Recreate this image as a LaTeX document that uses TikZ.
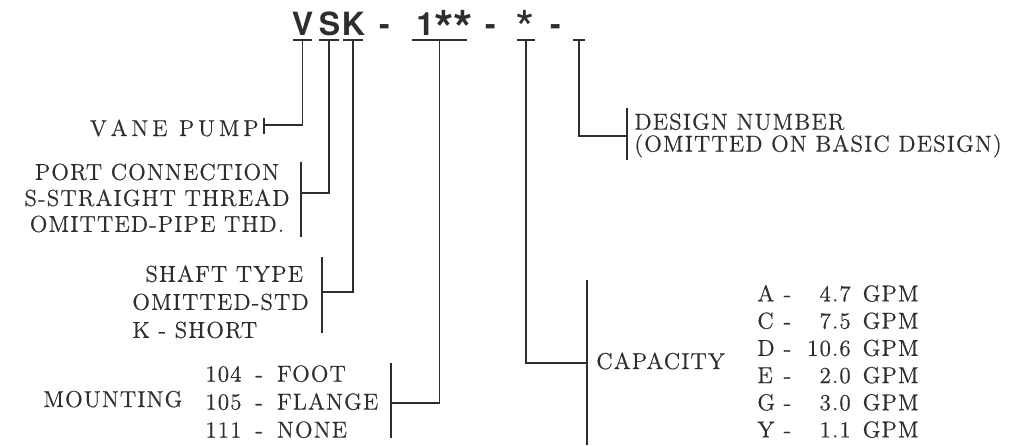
\documentclass[tikz,border=0pt]{standalone}
\usepackage{fontspec}
\usepackage{graphicx}
\usepackage{tikz}
\usetikzlibrary{calc,positioning}
\setmainfont{Latin Modern Roman}[LetterSpace=5, FakeBold=0.6]
\newfontfamily\codefont{TeX Gyre Heros}
\definecolor{InkGray}{HTML}{2E2E2E}
\newcommand{\bigast}{\raisebox{-5.5pt}{\scalebox{1.55}{*}}}
\tikzset{
  vskcode/.style={font=\codefont\bfseries\fontsize{16}{18}\selectfont, inner sep=0pt, text=InkGray},
  vsklabel/.style={font=\fontsize{11.5}{13.5}\selectfont, inner sep=0pt, align=left, text=InkGray},
  vskline/.style={draw=InkGray, line width=0.6pt},
  vskbracket/.style={draw=InkGray, line width=1.1pt}
}
\begin{document}
\begin{tikzpicture}[x=0.5pt,y=-0.5pt]
  \useasboundingbox (0,0) rectangle (1012,445);
  % model code
  \node[vskcode, anchor=base] (cV) at (302.5,35) {V};
  \node[vskcode, anchor=base] (cS) at (329.5,35) {S};
  \node[vskcode, anchor=base] (cK) at (353.5,35) {K};
  \node[vskcode, anchor=base] (d1) at (384.5,35) {-};
  \node[vskcode, anchor=base west] (cM) at (416,35) {1\bigast\bigast};
  \node[vskcode, anchor=base] (d2) at (490.5,35) {-};
  \node[vskcode, anchor=base, font=\codefont\fontsize{16}{18}\selectfont] (cC) at (525,35) {\bigast};
  \node[vskcode, anchor=base] (d3) at (555.5,35) {-};
  \foreach \n/\a/\b in {bV/293/312, bS/319/339, bK/343/363, bM/412/467, bC/517/535, bD/573/585} {
    \draw[vskline] (\a,40) -- (\b,40);
    \coordinate (\n) at ({(\a+\b)/2},40);
  }
  % labels
  \node[vsklabel, anchor=base east] (pump) at (259,136) {V\,A\,N\,E\hspace{0.5em}P\,U\,M\,P};
  \node[vsklabel, align=center, font=\fontsize{11.5}{13}\selectfont] (port) at (157,198)
    {PORT CONNECTION\\S-STRAIGHT THREAD\\OMITTED-PIPE THD.};
  \node[vsklabel, anchor=north west, font=\fontsize{11.5}{14}\selectfont] (shaft) at (132,265)
    {\hspace*{6.5pt}SHAFT TYPE\\OMITTED-STD\\K - SHORT};
  \node[vsklabel, anchor=base west] (mtitle) at (43,407) {MOUNTING};
  \node[vsklabel, anchor=north west, font=\fontsize{11.5}{14}\selectfont] (mount) at (205,365)
    {104\hspace{7pt}-\hspace{7pt}FOOT\\105\hspace{7pt}-\hspace{7pt}FLANGE\\111\hspace{7pt}-\hspace{7pt}NONE};
  \node[vsklabel, anchor=base west] (cap) at (596,369) {CAPACITY};
  \node[vsklabel, anchor=north west, font=\fontsize{11.5}{13.6}\selectfont] (caplist) at (757,282)
    {\begin{tabular}{@{}l@{\ -\hspace{8pt}}r@{\hspace{6pt}GPM}}
      A & 4.7\\ C & 7.5\\ D & 10.6\\ E & 2.0\\ G & 3.0\\ Y & 1.1
    \end{tabular}};
  \node[vsklabel, anchor=north west, font=\fontsize{11.5}{11}\selectfont] (design) at (634,113)
    {DESIGN NUMBER\\(OMITTED ON BASIC DESIGN)};
  % brackets and leaders
  \coordinate (pumpT) at (264,125);
  \draw[vskline] ($(pumpT)+(0,-7)$) -- ($(pumpT)+(0,9)$);
  \draw[vskline] (bV) |- (pumpT);
  \coordinate (portT) at (301,193);
  \draw[vskbracket] (301,162) -- (301,237);
  \draw[vskline] (bS) |- (portT);
  \coordinate (shaftT) at (322,292);
  \draw[vskbracket] (322,257) -- (322,333);
  \draw[vskline] (bK) |- (shaftT);
  \coordinate (mountT) at (391,403);
  \draw[vskline] (391,363) -- (391,438);
  \draw[vskline] (bM) |- (mountT);
  \coordinate (capT) at (587,363);
  \draw[vskline] (587,280) -- (587,445);
  \draw[vskline] (bC) |- (capT);
  \coordinate (desT) at (627,136);
  \draw[vskline] (627,108) -- (627,160);
  \draw[vskline] (bD) |- (desT);
\end{tikzpicture}
\end{document}
